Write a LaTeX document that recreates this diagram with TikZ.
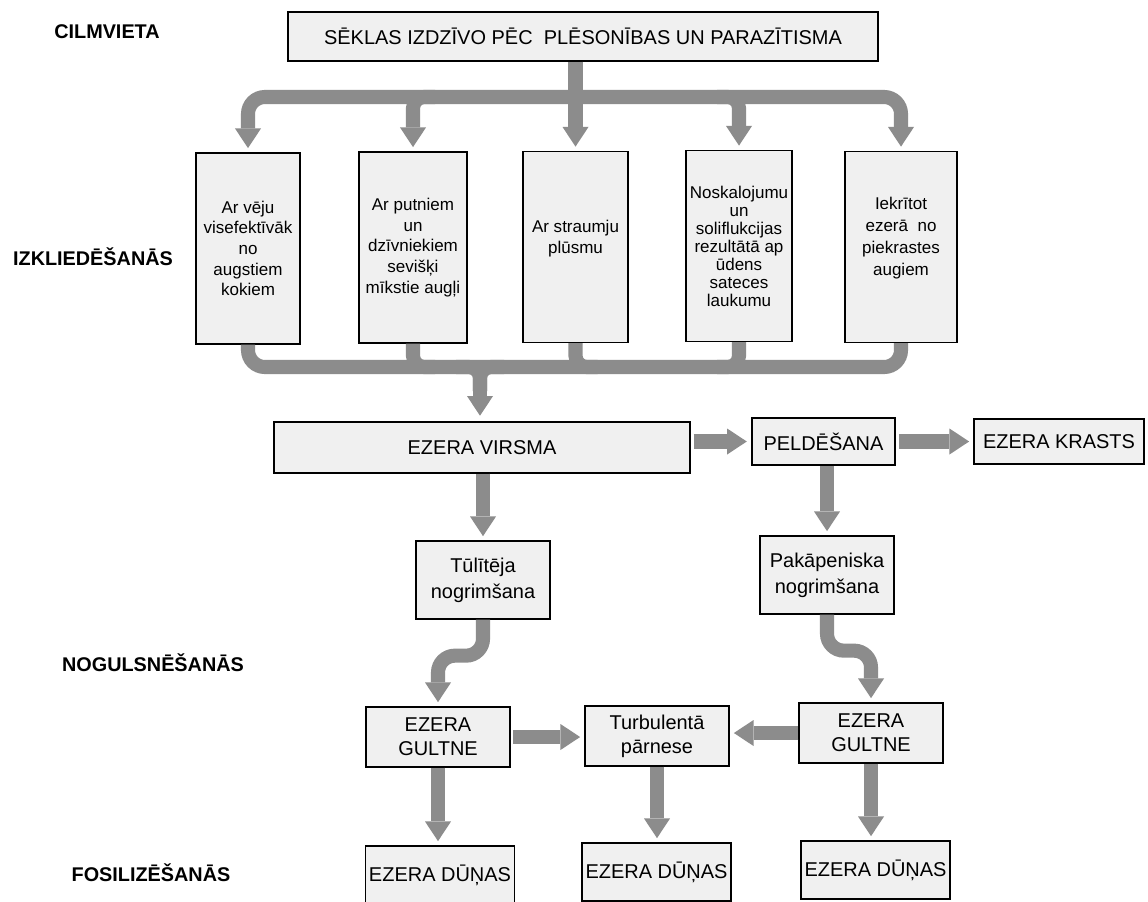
\documentclass[tikz,border=0pt]{standalone}
\usepackage{fontspec}
\setmainfont{Liberation Sans}
\usetikzlibrary{arrows.meta,calc,positioning}
\definecolor{flowgray}{gray}{0.55}
\definecolor{boxfill}{gray}{0.94}

\begin{document}
\begin{tikzpicture}[x=0.025cm, y=-0.025cm,
  >={Triangle[width=18.5pt,length=14pt,line width=0pt]},
  box/.style={draw, line width=0.9pt, fill=boxfill, inner sep=0pt, align=center,
              font=\fontsize{14.2}{17}\selectfont},
  tall/.style={box, minimum height=4.775cm, font=\fontsize{12.1}{14.7}\selectfont},
  pair/.style={box, minimum width=3.35cm, minimum height=1.95cm,
               font=\fontsize{14.2}{18.3}\selectfont},
  bed/.style={box, minimum width=3.6cm, minimum height=1.5cm},
  mud/.style={box, minimum width=3.725cm, minimum height=1.45cm},
  stage/.style={font=\bfseries\fontsize{14.1}{17}\selectfont},
  fat/.style={draw=flowgray, line width=10pt, ->, shorten >=3pt},
  bar/.style={draw=flowgray, line width=10pt},
]
\useasboundingbox (0,0) rectangle (1148,901);
\fill[white] (0,0) rectangle (1148,901);
\clip (0,0) rectangle (1148,901);

% stage labels
\node[stage] (origin) at (107,32)  {CILMVIETA};
\node[stage] (spread) at (93,257)  {IZKLIEDĒŠANĀS};
\node[stage] (settle) at (153,663) {NOGULSNĒŠANĀS};
\node[stage] (fossil) at (151,873) {FOSILIZĒŠANĀS};

% source
\node[box, minimum width=14.75cm, minimum height=1.225cm] (seed) at (583,36.5)
  {SĒKLAS IZDZĪVO PĒC\ \ PLĒSONĪBAS UN PARAZĪTISMA};

% dispersal
\node[tall, minimum width=2.6cm] (wind) at (248,248.5)
  {Ar vēju\\ visefektīvāk\\ no\\ augstiem\\ kokiem};
\node[tall, minimum width=2.7cm] (birds) at (413,247.5)
  {Ar putniem\\ un\\ dzīvniekiem\\ sevišķi\\ mīkstie augļi};
\node[tall, minimum width=2.625cm] (stream) at (575.5,247)
  {Ar straumju\\ plūsmu\\ \mbox{}};
\node[tall, minimum width=2.65cm, font=\fontsize{12.1}{12.8}\selectfont] (slope) at (739,246)
  {Noskalojumu\\ un\\ soliflukcijas\\ rezultātā ap\\ ūdens\\ sateces\\ laukumu};
\node[tall, minimum width=2.8cm, font=\fontsize{12.1}{15.6}\selectfont] (shore) at (901,247)
  {Iekrītot\\ ezerā\ \ no\\ piekrastes\\ augiem\\ \mbox{}};

% lake
\node[box, minimum width=10.4cm, minimum height=1.275cm] (surface) at (482,447.5) {EZERA VIRSMA};
\node[box, line width=1.4pt, minimum width=3.575cm, minimum height=1.175cm] (float) at (823.5,441.5) {PELDĒŠANA};
\node[box, minimum width=4.25cm, minimum height=1.125cm] (bank) at (1059,441.5) {EZERA KRASTS};
\node[pair] (sinkfast) at (483,580) {Tūlītēja\\ nogrimšana};
\node[pair] (sinkslow) at (827,575) {Pakāpeniska\\ nogrimšana};
\node[bed] (bedL) at (438,737) {EZERA\\ GULTNE};
\node[bed] (turb) at (657,736) {Turbulentā\\ pārnese};
\node[bed] (bedR) at (871,733) {EZERA\\ GULTNE};
\node[mud] (mudL) at (440,875)   {EZERA DŪŅAS};
\node[mud] (mudM) at (656.5,872) {EZERA DŪŅAS};
\node[mud] (mudR) at (875.5,870) {EZERA DŪŅAS};

% upper fan
\coordinate (topbus) at (575,97);
\coordinate (botbus) at (480,367);
\draw[fat] (seed.south -| stream.north) -- (stream.north);
\draw[fat, <->, shorten <=3pt, rounded corners=12pt] (wind.north) |- (topbus) -| (shore.north);
\draw[fat, rounded corners=8pt] ($(topbus -| birds.north)+(22,0)$) -| (birds.north);
\draw[fat, rounded corners=8pt] ($(topbus -| slope.north)+(-22,0)$) -| (slope.north);

% lower collector
\draw[bar, rounded corners=12pt] (wind.south) |- (botbus) -| (shore.south);
\draw[bar, rounded corners=8pt] (birds.south) |- ($(botbus -| birds.south)+(22,0)$);
\draw[bar, rounded corners=8pt] (stream.south) |- ($(botbus -| stream.south)+(22,0)$);
\draw[bar, rounded corners=8pt] (slope.south) |- ($(botbus -| slope.south)+(-22,0)$);
\draw[bar, rounded corners=8pt] ($(botbus)+(-24,0)$) -| ($(botbus)+(0,24)$);
\draw[bar, rounded corners=8pt] ($(botbus)+(24,0)$) -| ($(botbus)+(0,24)$);
\draw[fat, shorten >=4pt] (botbus) -- (botbus |- surface.north);

% surface and sinking
\draw[fat, shorten <=2pt] (surface.east |- float.west) -- (float.west);
\draw[fat, shorten <=2pt] (float.east) -- (bank.west);
\draw[fat] (surface.south -| sinkfast.north) -- (sinkfast.north);
\draw[fat] (float.south -| sinkslow.north) -- (sinkslow.north);
\draw[fat, rounded corners=12pt] (sinkfast.south) -- ++(0,36) -| (bedL.north);
\draw[fat, rounded corners=12pt] (sinkslow.south) -- ++(0,36) -| (bedR.north);

% bed and fossilisation
\draw[fat, shorten <=2pt] (bedL.east) -- (bedL.east -| turb.west);
\draw[fat] (bedR.west) -- (bedR.west -| turb.east);
\draw[fat] (bedL.south) -- (bedL.south |- mudL.north);
\draw[fat] (turb.south) -- (turb.south |- mudM.north);
\draw[fat] (bedR.south) -- (bedR.south |- mudR.north);
\end{tikzpicture}
\end{document}
